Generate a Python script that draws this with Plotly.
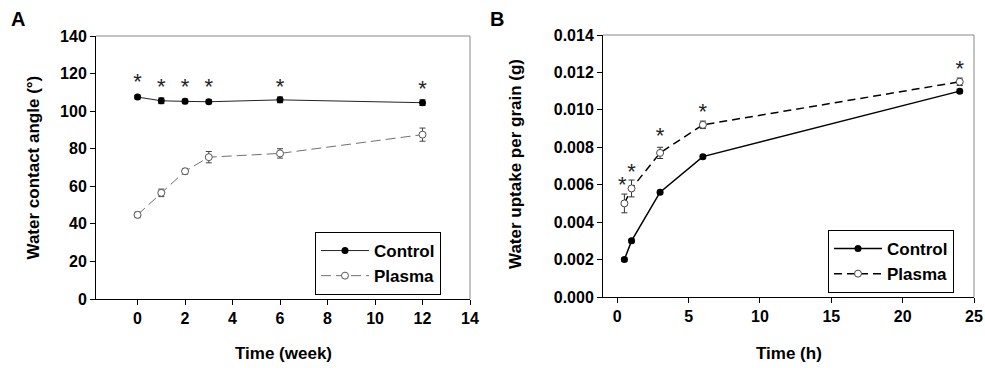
import plotly.graph_objects as go

# Panel A data
weeks = [0, 1, 2, 3, 6, 12]
ctrl_a = [107.5, 105.5, 105.2, 105.0, 106.0, 104.5]
ctrl_a_err = [1.0, 1.5, 1.2, 1.0, 1.5, 1.5]
plas_a = [44.8, 56.5, 68.0, 75.5, 77.5, 87.5]
plas_a_err = [1.5, 2.0, 1.5, 3.0, 2.5, 3.5]
star_a_x = [0, 1, 2, 3, 6, 12]
star_a_y = [114.5, 112.0, 112.0, 112.0, 112.0, 111.0]

# Panel B data
hours = [0.5, 1, 3, 6, 24]
ctrl_b = [0.0020, 0.0030, 0.0056, 0.0075, 0.0110]
ctrl_b_err = [0.0001, 0.0001, 0.0001, 0.0001, 0.0001]
plas_b = [0.0050, 0.0058, 0.0077, 0.0092, 0.0115]
plas_b_err = [0.0005, 0.00045, 0.0003, 0.0002, 0.0002]
star_b_x = [0.35, 1.0, 3.0, 6.0, 24.0]
star_b_y = [0.0059, 0.0066, 0.0085, 0.0098, 0.0121]

W, H = 985, 368
FONT = "Liberation Sans"

def px_x(p):
    return p / W

def px_y(p):
    return 1 - p / H

fig = go.Figure()

# Panel A traces
fig.add_trace(go.Scatter(
    x=weeks, y=ctrl_a, mode="lines+markers", name="Control",
    line=dict(color="#222222", width=1),
    marker=dict(symbol="circle", size=7, color="black"),
    error_y=dict(type="data", array=ctrl_a_err, color="black", thickness=1, width=3),
    xaxis="x", yaxis="y", legend="legend"))
fig.add_trace(go.Scatter(
    x=weeks, y=plas_a, mode="lines+markers", name="Plasma",
    line=dict(color="#707070", width=1, dash="10px,5px"),
    marker=dict(symbol="circle", size=7, color="white", line=dict(color="#555555", width=1)),
    error_y=dict(type="data", array=plas_a_err, color="#444444", thickness=1, width=3),
    xaxis="x", yaxis="y", legend="legend"))
fig.add_trace(go.Scatter(
    x=star_a_x, y=star_a_y, mode="text", text=["*"] * len(star_a_x),
    textfont=dict(family=FONT, size=22, color="#222222"), showlegend=False,
    xaxis="x", yaxis="y"))

# Panel B traces
fig.add_trace(go.Scatter(
    x=hours, y=ctrl_b, mode="lines+markers", name="Control",
    line=dict(color="black", width=1.5),
    marker=dict(symbol="circle", size=7, color="black"),
    error_y=dict(type="data", array=ctrl_b_err, color="black", thickness=1, width=3),
    xaxis="x2", yaxis="y2", legend="legend2"))
fig.add_trace(go.Scatter(
    x=hours, y=plas_b, mode="lines+markers", name="Plasma",
    line=dict(color="black", width=1.5, dash="8px,5px"),
    marker=dict(symbol="circle", size=7, color="white", line=dict(color="#444444", width=1)),
    error_y=dict(type="data", array=plas_b_err, color="#333333", thickness=1, width=3),
    xaxis="x2", yaxis="y2", legend="legend2"))
fig.add_trace(go.Scatter(
    x=star_b_x, y=star_b_y, mode="text", text=["*"] * len(star_b_x),
    textfont=dict(family=FONT, size=22, color="#222222"), showlegend=False,
    xaxis="x2", yaxis="y2"))

tickfont = dict(family=FONT, size=16, color="black", weight="bold")

common = dict(showgrid=False, zeroline=False, showline=True, linecolor="black",
              linewidth=1, ticks="outside", ticklen=5, tickcolor="black",
              tickfont=tickfont, automargin=False)

A_L, A_R, A_T, A_B = 96, 470, 36, 299
B_L, B_R, B_T, B_B = 603, 974, 35, 297

fig.update_layout(
    width=W, height=H,
    margin=dict(l=0, r=0, t=0, b=0),
    paper_bgcolor="white", plot_bgcolor="white",
    font=dict(family=FONT, color="black"),
    xaxis=dict(domain=[px_x(A_L), px_x(A_R)], range=[-1.75, 14], tickvals=[0, 2, 4, 6, 8, 10, 12, 14],
               anchor="y", **common),
    yaxis=dict(domain=[px_y(A_B), px_y(A_T)], range=[0, 140], tickvals=list(range(0, 141, 20)),
               anchor="x", **common),
    xaxis2=dict(domain=[px_x(B_L), px_x(B_R)], range=[-1, 25], tickvals=[0, 5, 10, 15, 20, 25],
                anchor="y2", **common),
    yaxis2=dict(domain=[px_y(B_B), px_y(B_T)], range=[0, 0.014],
                tickvals=[0, 0.002, 0.004, 0.006, 0.008, 0.010, 0.012, 0.014], tickformat=".3f",
                anchor="x2", **common),
    legend=dict(x=px_x(315), y=px_y(232), xanchor="left", yanchor="top",
                bordercolor="black", borderwidth=1, bgcolor="white",
                font=dict(family=FONT, size=17, color="black", weight="bold"), itemwidth=48,
                tracegroupgap=0),
    legend2=dict(x=px_x(828), y=px_y(230), xanchor="left", yanchor="top",
                 bordercolor="black", borderwidth=1, bgcolor="white",
                 font=dict(family=FONT, size=17, color="black", weight="bold"), itemwidth=48,
                 tracegroupgap=0),
)

# top/right frame lines in gray
for xr, yr in [("x", "y"), ("x2", "y2")]:
    fig.add_shape(type="line", xref=f"{xr} domain", yref=f"{yr} domain",
                  x0=0, x1=1, y0=1, y1=1, line=dict(color="#888888", width=1))
    fig.add_shape(type="line", xref=f"{xr} domain", yref=f"{yr} domain",
                  x0=1, x1=1, y0=0, y1=1, line=dict(color="#888888", width=1))

def title(text, x, y, angle=0):
    fig.add_annotation(text=f"<b>{text}</b>", x=px_x(x), y=px_y(y), xref="paper", yref="paper",
                       xanchor="center", yanchor="middle", showarrow=False, textangle=angle,
                       font=dict(family=FONT, size=17, color="black"))

title("Time (week)", (A_L + A_R) / 2, 353)
title("Time (h)", (B_L + B_R) / 2, 353)
title("Water contact angle (°)", 33, (A_T + A_B) / 2, -90)
title("Water uptake per grain (g)", 515, (B_T + B_B) / 2 - 2, -90)

fig.add_annotation(text="<b>A</b>", x=px_x(9), y=px_y(6), xref="paper", yref="paper",
                   xanchor="left", yanchor="top", showarrow=False,
                   font=dict(family=FONT, size=20, color="black"))
fig.add_annotation(text="<b>B</b>", x=px_x(488), y=px_y(6), xref="paper", yref="paper",
                   xanchor="left", yanchor="top", showarrow=False,
                   font=dict(family=FONT, size=20, color="black"))

fig.write_html("out.html", config={"displayModeBar": False},
               post_script="document.body.style.margin='0px';document.body.style.overflow='hidden';")
